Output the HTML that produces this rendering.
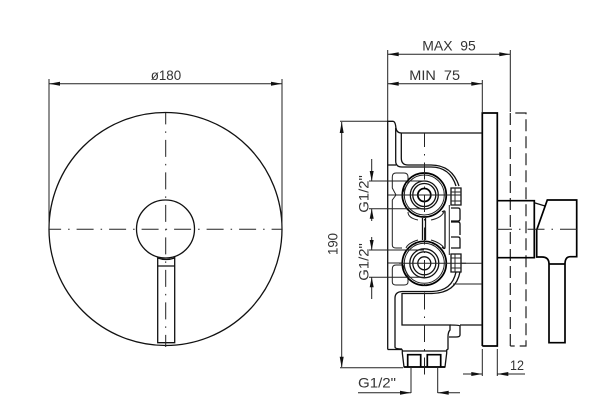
<!DOCTYPE html>
<html><head><meta charset="utf-8"><style>
html,body{margin:0;padding:0;background:#fff;width:613px;height:413px;overflow:hidden}
svg{display:block}
text{font-family:"Liberation Sans",sans-serif;font-size:14px;fill:#333;white-space:pre}
.t{fill:none;stroke:#222;stroke-width:1}
.m{fill:none;stroke:#111;stroke-width:1.3}
.h{fill:none;stroke:#000;stroke-width:1.7}
.c{fill:none;stroke:#222;stroke-width:1;stroke-dasharray:17 7 1.5 7}
.d{fill:none;stroke:#222;stroke-width:1.2;stroke-dasharray:12 5}
.a{fill:#111;stroke:none}
</style></head><body>
<svg width="613" height="413" viewBox="0 0 613 413" xmlns="http://www.w3.org/2000/svg">
<!-- left view -->
<circle class="m" cx="165.5" cy="229" r="116.5"/>
<circle class="m" cx="165.5" cy="229" r="29"/>
<path class="m" d="M157.7 256.5V342.7H174.7V256.5M157.7 266H174.7M157.7 258Q166 261 174.7 258"/>
<line class="c" x1="49" y1="229.3" x2="282" y2="229.3" stroke-dashoffset="4.9"/>
<line class="c" x1="165.7" y1="113" x2="165.7" y2="347" stroke-dashoffset="5.6"/>
<path class="t" d="M49 79V229M282 79V229M49 83.7H282"/>
<path class="a" d="M49 83.7l11-2v4zM282 83.7l-11-2v4z"/>
<text x="150.7" y="80" textLength="30.5" lengthAdjust="spacingAndGlyphs">ø180</text>

<!-- dims top -->
<path class="t" d="M387.7 50V121M510.3 50V112M387.7 54.3H510.3M387.7 83.7H482.3M482.3 80V112"/>
<path class="a" d="M387.7 54.3l11-2v4zM510.3 54.3l-11-2v4zM387.7 83.7l11-2v4zM482.3 83.7l-11-2v4z"/>
<text x="422.3" y="50.7" textLength="53.5" lengthAdjust="spacingAndGlyphs">MAX  95</text>
<text x="409.3" y="80" textLength="50.7" lengthAdjust="spacingAndGlyphs">MIN  75</text>

<!-- 190 dim -->
<path class="t" d="M340 121.3H388M340 367.7H403M341.7 122V367"/>
<path class="a" d="M341.7 122l-2 11h4zM341.7 367.7l-2-11h4z"/>
<text transform="translate(337.5 255) rotate(-90)" textLength="22" lengthAdjust="spacingAndGlyphs">190</text>

<!-- plates -->
<path class="h" d="M482.3 346V113H497.3V346H482.3"/>
<path class="d" d="M510.3 346V113H526V346H510.3"/>

<!-- body outline -->
<path class="m" d="M387.7 349.5V121.3H393Q395 121.3 395.7 126Q396 133 401.3 133H482.3"/>
<path class="m" d="M387.7 349.5H402.3"/>
<path class="m" d="M395.7 128V161Q395.7 167 402 167H431Q450 167 456 186"/>
<path class="m" d="M401.3 133V158Q401.3 165 408 165H431Q452 165 459 186"/>
<path class="m" d="M387.7 165H396"/>
<!-- lower pipe -->
<path class="m" d="M395 347V298Q395 292 402 291.5H432Q452 291 456 272"/>
<path class="m" d="M402 293.5H432Q456 293 460 272"/>
<path class="m" d="M395 347Q395 349 402 349"/>
<path class="m" d="M402 293V325H450V330Q448 332 448 337V349L446.7 350"/>
<path class="m" d="M450 325Q460 325 460 326V335Q460 337 456 337H449M460 325H482.3"/>
<path class="t" d="M453 284H482.3M461 263.3H482.3"/>
<!-- bottom connector -->
<path class="m" d="M402.3 349.5V353L404 367H445L446.7 353V349.5"/>
<path class="m" d="M402.3 351H446.7"/>
<path class="h" d="M407.7 367V354.7H420.7V367M427.3 367V354.7H440.7V367"/>
<path class="h" d="M404 367H445"/>

<!-- cavities -->
<path class="t" d="M392.3 177Q392.3 173 396 173H404Q408 173 408 177V183L403 192"/>
<path class="t" d="M392.3 177V188L396 195L392.3 200V245Q392.3 248 396 248H402"/>
<path class="t" d="M392.3 269Q392.3 265 396 265H403L408 276V282Q408 285 404 285H396Q392.3 285 392.3 282V269"/>
<path class="t" d="M388 195H402M388 263H402"/>
<path class="m" d="M445 212V247Q445 250 442 247M445 212Q445 210 442 212"/>
<path class="t" d="M449.3 205V255"/>
<path class="m" d="M422.5 218V240M425.5 218V240"/>
<path class="t" d="M431 220Q441 218 444 212M431 240Q441 243 444 248M418 220Q408 218 408 212M418 240Q408 243 406 248"/>

<!-- fittings -->
<path class="m" d="M451 188H461V205H451ZM451 254H461V272H451Z"/>
<path class="t" d="M455 188V205M455 254V272M451 192H461M451 201H461M451 258H461M451 268H461"/>
<path class="m" d="M451 208H458Q460 208 460 210V219Q460 221 458 221H451M451 222H458Q460 222 460 224V235M451 237H458Q460 237 460 239V248H451"/>

<!-- upper valve -->
<circle class="h" cx="424.3" cy="195" r="22"/>
<circle class="t" cx="424.3" cy="195" r="20"/>
<circle class="m" cx="424.3" cy="195" r="14"/>
<circle class="m" cx="424.3" cy="195" r="11.5"/>
<circle class="h" cx="424.3" cy="195" r="6.5"/>
<!-- lower valve -->
<circle class="h" cx="424.3" cy="263.3" r="22"/>
<circle class="t" cx="424.3" cy="263.3" r="20"/>
<circle class="m" cx="424.3" cy="263.3" r="14.5"/>
<circle class="m" cx="424.3" cy="263.3" r="11.5"/>
<circle class="m" cx="424.3" cy="263.3" r="6.5"/>

<!-- centre lines -->
<line class="c" x1="424.5" y1="133" x2="424.5" y2="375" stroke-dashoffset="3"/>
<path class="t" d="M399 195H461M399 263.3H466"/>

<!-- G1/2 side dims -->
<path class="t" d="M369 181H424M369 208.7H424M369 250H424M369 277.3H424M371.7 159V181M371.7 209V221M371.7 237V250M371.7 277V299"/>
<path class="a" d="M371.7 181l-2-10h4zM371.7 208.7l-2 10h4zM371.7 250l-2-10h4zM371.7 277.3l-2 10h4z"/>
<text transform="translate(368.3 212.7) rotate(-90)" textLength="37.5" lengthAdjust="spacingAndGlyphs">G1/2"</text>
<text transform="translate(368.3 280.7) rotate(-90)" textLength="37.5" lengthAdjust="spacingAndGlyphs">G1/2"</text>

<!-- handle -->
<path class="h" d="M497.3 200.7H534.3V257.7H497.3"/>
<path class="m" d="M534.3 202.7L545 206"/>
<path class="h" d="M536.7 230L547.3 200H576.7V256.7H570Q565 257 565 264V342.7H549V264Q549 257 542 257H536.7Z"/>
<path class="h" d="M549 264H565"/>
<line class="c" x1="497" y1="229.3" x2="577" y2="229.3" stroke-dashoffset="2"/>

<!-- bottom dims -->
<path class="t" d="M482.3 349V376M497.3 349V376M463 374H482.3M497.3 374H525"/>
<path class="a" d="M482.3 374l-11-2v4zM497.3 374l11-2v4z"/>
<text x="510" y="370" textLength="14" lengthAdjust="spacingAndGlyphs">12</text>
<path class="t" d="M411 367V393M437.7 367V393M358 392.7H411M437.7 392.7H460"/>
<path class="a" d="M411 392.7l-11-2v4zM437.7 392.7l11-2v4z"/>
<text x="358" y="387.7" textLength="38" lengthAdjust="spacingAndGlyphs">G1/2"</text>
</svg>
</body></html>
